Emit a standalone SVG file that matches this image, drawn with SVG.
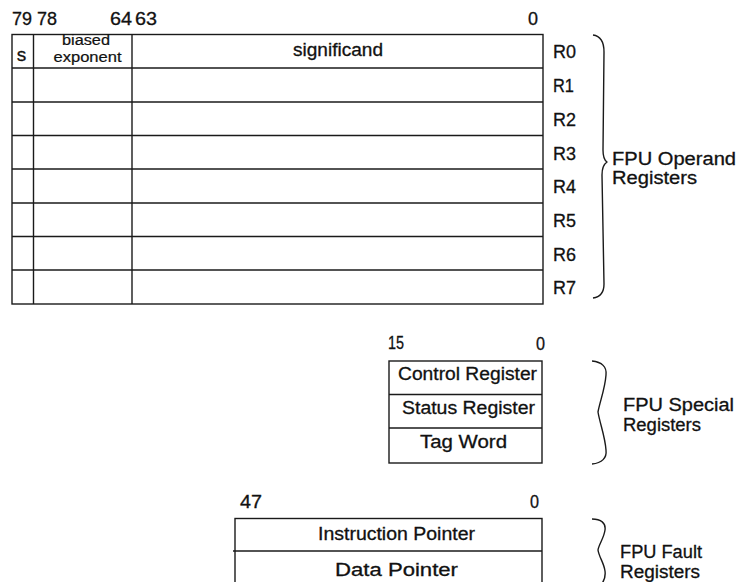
<svg xmlns="http://www.w3.org/2000/svg" width="737" height="582" viewBox="0 0 737 582">
<style>
  text { font-family: "Liberation Sans", Arial, sans-serif; fill: #111; stroke: #111; stroke-width: 0.3; }
  .t { font-size: 18px; }
  .s { font-size: 14px; stroke-width: 0.2; }
  .mid { text-anchor: middle; }
  .box { fill: none; stroke: #1a1a1a; stroke-width: 1.4; }
  .ln { stroke: #1a1a1a; stroke-width: 1.4; fill: none; }
  .brace { fill: none; stroke: #1a1a1a; stroke-width: 1.4; stroke-linejoin: round; }
</style>
<rect width="737" height="582" fill="#fff"/>

<g id="operand-registers">
  <text class="t" x="12" y="25" textLength="20" lengthAdjust="spacingAndGlyphs">79</text>
  <text class="t" x="37" y="25" textLength="20" lengthAdjust="spacingAndGlyphs">78</text>
  <text class="t" x="110" y="25" textLength="22" lengthAdjust="spacingAndGlyphs">64</text>
  <text class="t" x="135" y="25" textLength="22" lengthAdjust="spacingAndGlyphs">63</text>
  <text class="t" x="528" y="25" textLength="10" lengthAdjust="spacingAndGlyphs">0</text>
  <rect class="box" x="12" y="34.5" width="531" height="269.5"/>
  <line class="ln" x1="33.5" y1="34.5" x2="33.5" y2="304"/>
  <line class="ln" x1="132" y1="34.5" x2="132" y2="304"/>
  <line class="ln" x1="12" y1="68" x2="543" y2="68"/>
  <line class="ln" x1="12" y1="102" x2="543" y2="102"/>
  <line class="ln" x1="12" y1="135.5" x2="543" y2="135.5"/>
  <line class="ln" x1="12" y1="169" x2="543" y2="169"/>
  <line class="ln" x1="12" y1="203" x2="543" y2="203"/>
  <line class="ln" x1="12" y1="236.5" x2="543" y2="236.5"/>
  <line class="ln" x1="12" y1="270" x2="543" y2="270"/>
  <text class="t mid" x="21.5" y="61" style="font-size:19px">s</text>
  <text class="s mid" x="86" y="45" textLength="48" lengthAdjust="spacingAndGlyphs">biased</text>
  <text class="s mid" x="87.5" y="61.5" textLength="68" lengthAdjust="spacingAndGlyphs">exponent</text>
  <text class="t mid" x="338" y="56" textLength="90" lengthAdjust="spacingAndGlyphs">significand</text>
  <text class="t" x="553" y="58" textLength="23" lengthAdjust="spacingAndGlyphs">R0</text>
  <text class="t" x="553" y="92" textLength="21" lengthAdjust="spacingAndGlyphs">R1</text>
  <text class="t" x="553" y="126" textLength="23" lengthAdjust="spacingAndGlyphs">R2</text>
  <text class="t" x="553" y="160" textLength="23" lengthAdjust="spacingAndGlyphs">R3</text>
  <text class="t" x="553" y="193" textLength="23" lengthAdjust="spacingAndGlyphs">R4</text>
  <text class="t" x="553" y="227" textLength="23" lengthAdjust="spacingAndGlyphs">R5</text>
  <text class="t" x="553" y="261" textLength="23" lengthAdjust="spacingAndGlyphs">R6</text>
  <text class="t" x="553" y="294" textLength="23" lengthAdjust="spacingAndGlyphs">R7</text>
  <text class="t" x="612" y="165" textLength="124" lengthAdjust="spacingAndGlyphs">FPU Operand</text>
  <text class="t" x="612" y="184" textLength="85" lengthAdjust="spacingAndGlyphs">Registers</text>
</g>

<g id="special-registers">
  <text class="t" x="388" y="349" textLength="16" lengthAdjust="spacingAndGlyphs">15</text>
  <text class="t" x="536" y="350" textLength="9" lengthAdjust="spacingAndGlyphs">0</text>
  <rect class="box" x="389" y="361" width="153" height="102"/>
  <line class="ln" x1="389" y1="394.5" x2="542" y2="394.5"/>
  <line class="ln" x1="389" y1="428" x2="542" y2="428"/>
  <text class="t" x="398" y="380" textLength="139" lengthAdjust="spacingAndGlyphs">Control Register</text>
  <text class="t" x="402" y="414" textLength="133" lengthAdjust="spacingAndGlyphs">Status Register</text>
  <text class="t" x="420" y="448" textLength="87" lengthAdjust="spacingAndGlyphs">Tag Word</text>
  <text class="t" x="623" y="411" textLength="111" lengthAdjust="spacingAndGlyphs">FPU Special</text>
  <text class="t" x="623" y="431" textLength="78" lengthAdjust="spacingAndGlyphs">Registers</text>
</g>

<g id="fault-registers">
  <text class="t" x="240" y="508" textLength="22" lengthAdjust="spacingAndGlyphs">47</text>
  <text class="t" x="530" y="508" textLength="9" lengthAdjust="spacingAndGlyphs">0</text>
  <rect class="box" x="235" y="518.5" width="307" height="68"/>
  <line class="ln" x1="233" y1="551" x2="542" y2="551"/>
  <text class="t" x="318" y="540" textLength="157" lengthAdjust="spacingAndGlyphs">Instruction Pointer</text>
  <text class="t" x="335" y="576" textLength="123" lengthAdjust="spacingAndGlyphs">Data Pointer</text>
  <text class="t" x="620" y="558" textLength="82" lengthAdjust="spacingAndGlyphs">FPU Fault</text>
  <text class="t" x="620" y="578" textLength="80" lengthAdjust="spacingAndGlyphs">Registers</text>
</g>

<g id="connectors">
  <path class="brace" d="M593,35 C601,36 604,42 604,52 L603,150 C603,157 604,160 607,162 C604,164 602,168 602,175 L604,284 C604,292 601,297 593,298"/>
  <path class="brace" d="M592,361 C602,362 607,367 606,375 C605,389 600,401 598,412 C600,424 605,436 606,450 C607,458 602,463 592,464"/>
  <path class="brace" d="M592,519 C601,519 606,523 605,530 C604,538 599,544 598,550 C599,557 604,563 605,571 C606,579 603,584 597,588"/>
</g>
</svg>
